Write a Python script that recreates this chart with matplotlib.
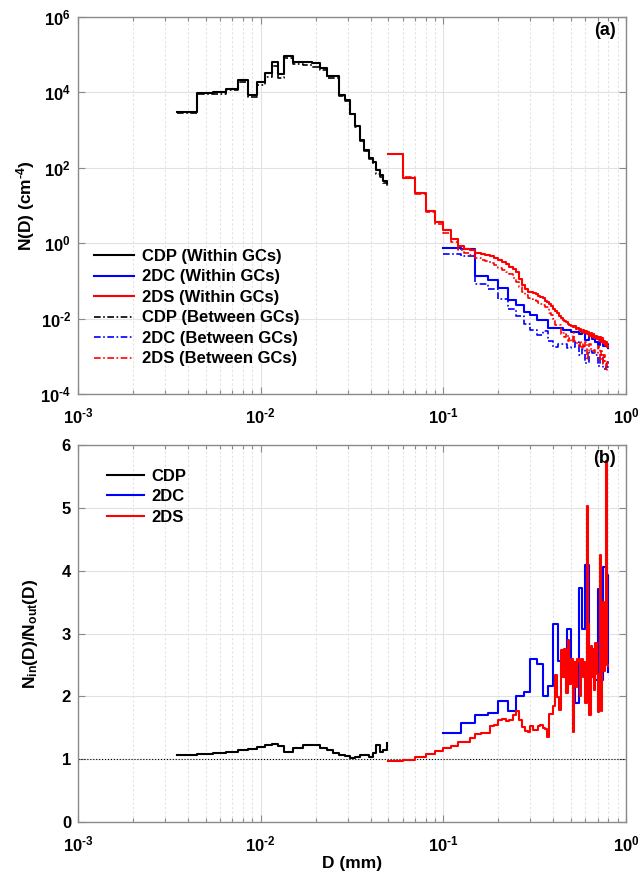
import numpy as np
import matplotlib.pyplot as plt
from matplotlib.ticker import FixedLocator, FuncFormatter, LogLocator, NullFormatter

plt.rcParams['font.family'] = ['Liberation Sans', 'DejaVu Sans']
plt.rcParams['font.weight'] = 'bold'
plt.rcParams['axes.labelweight'] = 'bold'
plt.rcParams['mathtext.fontset'] = 'custom'
plt.rcParams['mathtext.rm'] = 'Liberation Sans:bold'
plt.rcParams['mathtext.bf'] = 'Liberation Sans:bold'
plt.rcParams['mathtext.it'] = 'Liberation Sans:bold:italic'

# ---- size distributions ----------------------------------------------------
# CDP bin positions (um)
cdp_d_um = [3.5, 4.5, 5.5, 6.5, 7.5, 8.5, 9.5, 10.5, 11.5, 12.5, 13.5, 15, 17, 19,
            21, 23, 25, 27, 29, 31, 33, 35, 37, 39, 41, 43, 45, 47, 49]
# 2D-C: 25 um bins, 2D-S: 10 um bins (um)
twodc_d_um = np.arange(100, 801, 25)
twods_d_um = np.arange(50, 801, 10)

# N(D) within GCs (cm^-4)
cdp_n_in = [3.0e3, 9.8e3, 1.0e4, 1.26e4, 2.1e4, 8.7e3, 1.86e4, 3.2e4, 6.3e4, 3.0e4,
            9.3e4, 6.5e4, 6.5e4, 5.9e4, 4.5e4, 2.7e4, 2.7e4, 8.5e3, 6.2e3, 2.75e3,
            1.26e3, 540, 290, 180, 140, 85, 63, 46, 40]
twodc_n_in = [0.74, 0.71, 0.138, 0.107, 0.063, 0.032, 0.023, 0.0151, 0.0126, 0.0091,
              0.0091, 0.0055, 0.0055, 0.0055, 0.0050, 0.0050, 0.0045, 0.0045, 0.0040,
              0.0047, 0.0027, 0.0035, 0.0028, 0.0024, 0.0020, 0.0024, 0.0019, 0.0021,
              0.00166]
twods_n_in = [230, 55, 21, 7.2, 3.7, 2.2, 1.3, 0.85, 0.71, 0.66,
              0.56, 0.51, 0.48, 0.45, 0.40, 0.35, 0.32, 0.28, 0.24, 0.21,
              0.17, 0.112, 0.079, 0.060, 0.052, 0.050, 0.047, 0.044, 0.040, 0.038,
              0.035, 0.030, 0.0275, 0.024, 0.021, 0.018, 0.0158, 0.0138, 0.0117, 0.0105,
              0.0093, 0.0087, 0.0079, 0.0074, 0.0068, 0.0063, 0.0060, 0.0063, 0.0054, 0.0056,
              0.0049, 0.0052, 0.0045, 0.0050, 0.0042, 0.0046, 0.0040, 0.0044, 0.0035, 0.0042,
              0.0033, 0.0038, 0.0030, 0.0035, 0.0028, 0.0033, 0.00275, 0.0032, 0.0024, 0.0030,
              0.00224, 0.0026, 0.0020, 0.0024, 0.0018, 0.0019]

# N_in(D) / N_out(D)
cdp_ratio = [1.066, 1.082, 1.098, 1.119, 1.14, 1.16, 1.20, 1.225, 1.235, 1.21,
             1.11, 1.17, 1.22, 1.22, 1.17, 1.15, 1.10, 1.07, 1.05, 1.02,
             1.03, 1.07, 1.06, 1.04, 1.10, 1.22, 1.11, 1.14, 1.25]
twodc_ratio = [1.42, 1.58, 1.71, 1.73, 1.93, 1.77, 2.00, 2.07, 2.60, 2.51,
               2.00, 2.17, 3.15, 2.57, 2.30, 3.07, 2.55, 1.89, 3.72, 3.07,
               4.09, 2.60, 2.30, 2.26, 3.71, 2.26, 4.06, 3.93, 2.38]
twods_ratio = [0.97, 0.98, 1.04, 1.08, 1.135, 1.18, 1.21, 1.27, 1.28, 1.34,
               1.40, 1.42, 1.42, 1.53, 1.54, 1.62, 1.64, 1.60, 1.62, 1.71,
               1.77, 1.62, 1.51, 1.45, 1.44, 1.52, 1.47, 1.46, 1.53, 1.55,
               1.50, 1.48, 1.36, 1.72, 1.72, 1.85, 2.34, 1.99, 1.78, 2.74,
               2.30, 2.75, 2.05, 2.90, 2.20, 2.60, 1.43, 2.55, 2.15, 2.60,
               2.55, 2.00, 2.60, 2.30, 2.55, 1.90, 5.03, 3.15, 1.70, 2.80,
               2.30, 2.75, 2.10, 2.85, 2.35, 1.75, 1.80, 4.25, 1.77, 2.85,
               3.50, 2.40, 3.00, 5.75, 2.50, 2.48]

probes = [
    ('CDP', cdp_d_um, cdp_n_in, cdp_ratio, '#000000'),
    ('2DC', twodc_d_um, twodc_n_in, twodc_ratio, '#0000FF'),
    ('2DS', twods_d_um, twods_n_in, twods_ratio, '#FF0000'),
]

EDGE = '#8a8a8a'
GRID = '#e2e2e2'
DASHDOT = (0, (4, 1.5, 1, 1.5))


def decade_label(v, pos):
    e = int(round(np.log10(v)))
    if e < 0:
        return r'$10^{\text{-}%d}$' % -e
    return r'$10^{%d}$' % e


def style_axes(ax):
    ax.set_xscale('log')
    ax.set_xlim(1e-3, 1)
    ax.xaxis.set_major_locator(FixedLocator([1e-3, 1e-2, 1e-1, 1]))
    ax.xaxis.set_minor_locator(LogLocator(base=10, subs=np.arange(2, 10), numticks=20))
    ax.xaxis.set_major_formatter(FuncFormatter(decade_label))
    ax.xaxis.set_minor_formatter(NullFormatter())
    ax.tick_params(which='both', direction='in', top=True, right=True,
                   color=EDGE, labelcolor='k', labelsize=12)
    ax.tick_params(which='major', length=5, width=0.8)
    ax.tick_params(which='minor', length=3, width=0.8)
    ax.tick_params(axis='x', which='major', pad=9)
    ax.tick_params(axis='y', which='major', pad=5)
    for s in ax.spines.values():
        s.set_color(EDGE)
        s.set_linewidth(1.0)
    ax.grid(True, which='major', color=GRID, lw=0.8)
    ax.grid(True, which='minor', axis='x', color=GRID, lw=0.8, ls=(0, (2, 2)))
    ax.set_axisbelow(True)


fig = plt.figure(figsize=(6.41, 8.84), dpi=100)
W, H = 641, 884
ax_a = fig.add_axes([78 / W, 1 - 394 / H, 548 / W, 377 / H])
ax_b = fig.add_axes([78 / W, 1 - 822 / H, 548 / W, 377 / H])

# (a) number distributions
style_axes(ax_a)
ax_a.set_yscale('log')
ax_a.set_ylim(1e-4, 1e6)
ax_a.yaxis.set_major_locator(FixedLocator([1e-4, 1e-2, 1, 1e2, 1e4, 1e6]))
ax_a.yaxis.set_minor_locator(FixedLocator([]))
ax_a.yaxis.set_major_formatter(FuncFormatter(decade_label))
ax_a.grid(True, which='major', axis='y', color=GRID, lw=0.8)

for name, d, n_in, ratio, col in probes:
    ax_a.step(np.asarray(d) / 1000.0, n_in, where='post', color=col, lw=1.5,
              label=f'{name} (Within GCs)')
for name, d, n_in, ratio, col in probes:
    n_out = np.asarray(n_in) / np.asarray(ratio)
    ax_a.step(np.asarray(d) / 1000.0, n_out, where='post', color=col, lw=1.2,
              ls=DASHDOT, label=f'{name} (Between GCs)')

ax_a.set_ylabel(r'N(D) (cm$^{\text{-}4}$)', fontsize=12.5)
ax_a.yaxis.set_label_coords(-0.075, 0.5)
ax_a.legend(loc='upper left', bbox_to_anchor=(0.03, 0.385), frameon=False,
            fontsize=12, handlelength=2.4, handletextpad=0.45, labelspacing=0.33,
            borderpad=0, borderaxespad=0)
ax_a.text(0.982, 0.988, '(a)', transform=ax_a.transAxes, ha='right', va='top',
          fontsize=13, fontweight='bold')

# (b) within / between ratio
style_axes(ax_b)
ax_b.set_ylim(0, 6)
ax_b.yaxis.set_major_locator(FixedLocator(range(7)))
ax_b.axhline(1, color='k', ls=':', lw=0.8)
for name, d, n_in, ratio, col in probes:
    ax_b.step(np.asarray(d) / 1000.0, ratio, where='post', color=col, lw=1.5, label=name)

ax_b.set_ylabel(r'N$_{\rm in}$(D)/N$_{\rm out}$(D)', fontsize=12.5)
ax_b.yaxis.set_label_coords(-0.07, 0.5)
ax_b.set_xlabel('D (mm)', fontsize=12.5, labelpad=1)
ax_b.legend(loc='upper left', bbox_to_anchor=(0.053, 0.937), frameon=False,
            fontsize=12, handlelength=2.2, handletextpad=0.45, labelspacing=0.33,
            borderpad=0, borderaxespad=0)
ax_b.text(0.982, 0.988, '(b)', transform=ax_b.transAxes, ha='right', va='top',
          fontsize=13, fontweight='bold')

fig.savefig('out.png', dpi=100)
